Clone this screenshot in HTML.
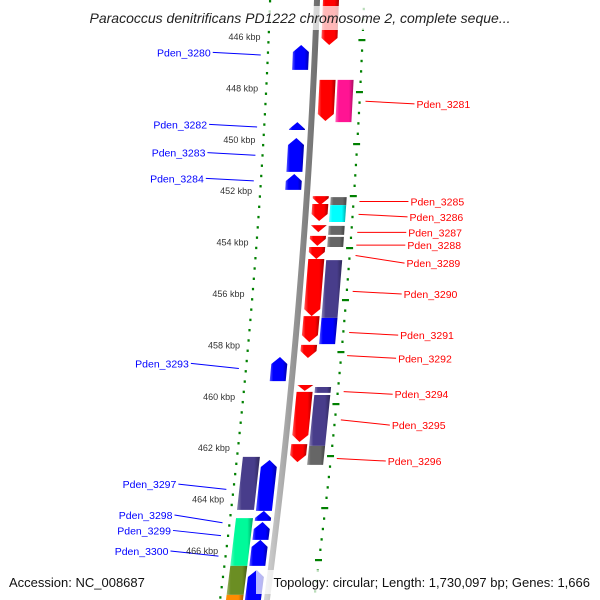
<!DOCTYPE html>
<html><head><meta charset="utf-8">
<style>
html,body{margin:0;padding:0;background:#fff;}
svg{display:block;font-family:"Liberation Sans","DejaVu Sans",sans-serif;}
</style></head>
<body>
<svg id="map" width="600" height="600" viewBox="0 0 600 600" xmlns="http://www.w3.org/2000/svg">
<defs>
<linearGradient id="gbb" x1="0" x2="1" y1="0" y2="0"><stop offset="0" stop-color="#d8d8d8"/><stop offset="0.5" stop-color="#9a9a9a"/><stop offset="1" stop-color="#6a6a6a"/></linearGradient>
</defs>
<g id="rings"></g>
<g id="backbone"></g>
<g id="genes"></g>
<g id="labels"></g>
<g id="kbp"></g>
<rect x="62" y="6" width="476" height="24" fill="#fff" opacity="0.72"/>
<text x="300" y="23" text-anchor="middle" font-size="14" font-style="italic" fill="#222">Paracoccus denitrificans PD1222 chromosome 2, complete seque...</text>
<rect x="4" y="570" width="142" height="24" fill="#fff" opacity="0.72"/>
<text x="9" y="587" font-size="13" fill="#111">Accession: NC_008687</text>
<rect x="256" y="570" width="338" height="24" fill="#fff" opacity="0.72"/>
<text x="590" y="587" text-anchor="end" font-size="13" fill="#111">Topology: circular; Length: 1,730,097 bp; Genes: 1,666</text>
</svg>
<script>
// ---- data ----
const kbpTicks = [446,448,450,452,454,456,458,460,462,464,466];
const kbpTickLabels = ["446 kbp","448 kbp","450 kbp","452 kbp","454 kbp","456 kbp","458 kbp","460 kbp","462 kbp","464 kbp","466 kbp"];
const geneStart = [444.56,446.31,447.67,447.67,449.31,449.93,451.33,452.19,452.50,452.23,452.54,453.32,453.35,453.74,453.78,454.17,454.64,456.86,454.68,456.93,457.98,458.45,459.54,459.62,459.81,459.93,461.84,461.91,462.34,462.46,464.44,464.87,465.57,466.74,464.72,466.58,467.71];
const geneEnd   = [446.31,447.28,449.27,449.31,449.62,451.25,451.95,452.54,453.16,452.54,453.20,453.59,453.70,454.13,454.17,454.64,456.86,457.87,456.93,457.95,458.49,459.39,459.77,459.85,461.76,461.91,462.54,462.65,464.40,464.44,464.83,465.57,466.58,468.20,466.58,467.71,468.80];
const geneCol   = [1,-1,1,2,-1,-1,-1,1,1,2,2,1,2,1,2,1,1,1,2,2,1,-1,1,2,1,2,1,2,-2,-1,-1,-1,-1,-1,-2,-2,-2];
const geneColor = ["#ff0000","#0000ff","#ff0000","#ff1493","#0000ff","#0000ff","#0000ff","#ff0000","#ff0000","#666666","#00ffff","#ff0000","#666666","#ff0000","#666666","#ff0000","#ff0000","#ff0000","#483d8b","#0000ff","#ff0000","#0000ff","#ff0000","#483d8b","#ff0000","#483d8b","#ff0000","#666666","#483d8b","#0000ff","#0000ff","#0000ff","#0000ff","#0000ff","#00fa9a","#6b8e23","#ff8c00"];
const geneShape = ["down","up","down","box","up","up","up","down","down","box","box","down","box","down","box","down","down","down","box","box","down","up","down","box","down","box","down","box","box","up","up","up","up","up","box","box","box"];
const leftLabels = ["Pden_3280","Pden_3282","Pden_3283","Pden_3284","Pden_3293","Pden_3297","Pden_3298","Pden_3299","Pden_3300"];
const leftLabelKbp = [446.6,449.4,450.5,451.5,458.7,463.4,464.6,465.2,466.0];
const leftGeneKbp  = [446.7,449.5,450.6,451.6,458.9,463.6,464.9,465.4,466.2];
const rightLabels = ["Pden_3281","Pden_3285","Pden_3286","Pden_3287","Pden_3288","Pden_3289","Pden_3290","Pden_3291","Pden_3292","Pden_3294","Pden_3295","Pden_3296"];
const rightLabelKbp = [448.6,452.4,453.0,453.6,454.1,454.8,456.0,457.6,458.5,459.9,461.1,462.5];
const rightGeneKbp  = [448.5,452.4,452.9,453.6,454.1,454.5,455.9,457.5,458.4,459.8,460.9,462.4];

// ---- geometry ----
const NS = "http://www.w3.org/2000/svg";
function yOf(k){ return 37 + (k-446)*25.7; }
function xb(y){ return 317 - 0.0367*y - 0.000078*y*y; }
function P(k,d){ const y=yOf(k); return [xb(y)+d, y]; }
const colD = {"-2":[-41,-24], "-1":[-22,-6], "1":[6,22], "2":[24,40]};
function mk(tag, attrs, parent){ const e=document.createElementNS(NS,tag); for(const a in attrs) e.setAttribute(a,attrs[a]); parent.appendChild(e); return e; }
function shade(hex, f){ const n=parseInt(hex.slice(1),16); let r=n>>16,g=(n>>8)&255,b=n&255;
  if(f>0){r=r+(255-r)*f;g=g+(255-g)*f;b=b+(255-b)*f;} else {r*=1+f;g*=1+f;b*=1+f;}
  return "rgb("+Math.round(r)+","+Math.round(g)+","+Math.round(b)+")"; }

const defs = document.querySelector("defs");
const gradIds = {};
function grad(c){ if(gradIds[c]) return gradIds[c]; const id="g"+c.slice(1);
  const lg=mk("linearGradient",{id:id,x1:"0",x2:"1",y1:"0",y2:"0"},defs);
  mk("stop",{offset:"0","stop-color":shade(c,0.35)},lg);
  mk("stop",{offset:"0.2","stop-color":c},lg);
  mk("stop",{offset:"0.75","stop-color":c},lg);
  mk("stop",{offset:"1","stop-color":shade(c,-0.35)},lg);
  gradIds[c]=id; return id; }

// rings
const rings = document.getElementById("rings");
for(let i=0;i<62;i++){
  const k = 444.6 + i*0.4; const y=yOf(k); const major = Math.abs((k-446)/2 - Math.round((k-446)/2))<0.01;
  const x = xb(y)-47;
  const r = mk("rect",{x:major?x-5:x-1,y:y-1,width:major?7:2.2,height:major?2.2:2.4,fill:"#008000"},rings);
  
  
}
for(let i=0;i<60;i++){
  const y = 40 - 52 + i*10.4; const major = i%5===0;
  const x = xb(y)+47;
  const r = mk("rect",{x:major?x-4:x-1,y:y-1,width:major?7:2.2,height:major?2.2:2.4,fill:"#008000"},rings);
  
  
}

// backbone
const bb = document.getElementById("backbone");
let pts=[]; for(let y=-5;y<=605;y+=10) pts.push([xb(y),y]);
const left = pts.map(p=>(p[0]-3)+","+p[1]); const right = pts.slice().reverse().map(p=>(p[0]+3)+","+p[1]);
const bbp = mk("polygon",{points:left.concat(right).join(" "),fill:"url(#gbb)"},bb);



// genes
const gG = document.getElementById("genes");
for(let i=0;i<geneStart.length;i++){
  const [d0,d1] = colD[geneCol[i]]; const s=geneStart[i], e=geneEnd[i];
  const len = yOf(e)-yOf(s); const h = Math.min(7, len)/25.7; const dm=(d0+d1)/2;
  let poly;
  if(geneShape[i]==="up") poly=[P(s,dm),P(s+h,d1),P(e,d1),P(e,d0),P(s+h,d0)];
  else if(geneShape[i]==="down") poly=[P(s,d0),P(s,d1),P(e-h,d1),P(e,dm),P(e-h,d0)];
  else poly=[P(s,d0),P(s,d1),P(e,d1),P(e,d0)];
  const el = mk("polygon",{points:poly.map(p=>p[0].toFixed(1)+","+p[1].toFixed(1)).join(" "),fill:"url(#"+grad(geneColor[i])+")"},gG);
  
  
}

// labels
const lab = document.getElementById("labels");
for(let i=0;i<leftLabels.length;i++){
  const ty=yOf(leftLabelKbp[i]); const [gx,gy]=P(leftGeneKbp[i],-54);
  const tx = gx-48;
  const ln = mk("line",{x1:tx,y1:ty,x2:gx,y2:gy,stroke:"#0000ff","stroke-width":1},lab);
  
  
  const t = mk("text",{x:tx-2,y:ty+4,"text-anchor":"end","font-size":10.5,fill:"#0000ff"},lab);
  t.textContent=leftLabels[i];
  
  
}
for(let i=0;i<rightLabels.length;i++){
  const ty=yOf(rightLabelKbp[i]); const [gx,gy]=P(rightGeneKbp[i],53);
  const tx = gx+49;
  const ln = mk("line",{x1:gx,y1:gy,x2:tx,y2:ty,stroke:"#ff0000","stroke-width":1},lab);
  
  
  const t = mk("text",{x:tx+2,y:ty+4,"font-size":10.5,fill:"#ff0000"},lab);
  t.textContent=rightLabels[i];
  
  
}

// kbp labels
const kg = document.getElementById("kbp");
for(let i=0;i<kbpTicks.length;i++){
  const [x,y]=P(kbpTicks[i],-55);
  const t = mk("text",{x:x,y:y+3,"text-anchor":"end","font-size":9,fill:"#333"},kg);
  t.textContent=kbpTickLabels[i];
  
  
}
</script>
</body></html>
